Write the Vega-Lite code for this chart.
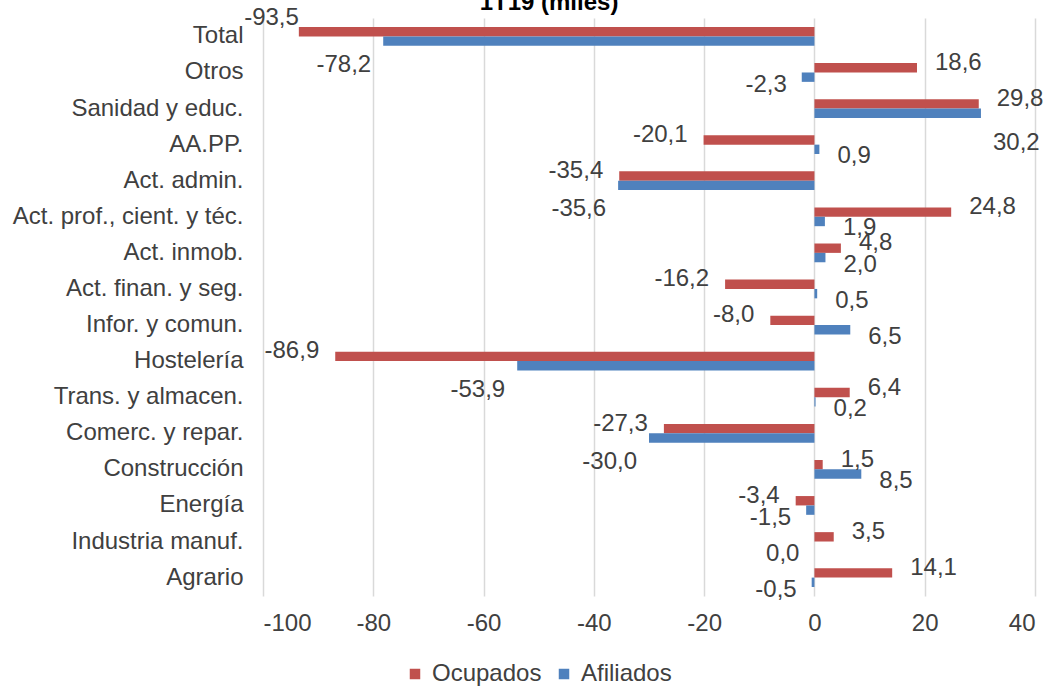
{
  "$schema": "https://vega.github.io/schema/vega-lite/v6.json",
  "width": 772,
  "height": 578,
  "autosize": {"type": "none"},
  "padding": {"left": 263, "top": 18, "right": 20, "bottom": 92},
  "background": "white",
  "title": {"text": "1T19 (miles)", "fontSize": 24, "fontWeight": "bold", "font": "Liberation Sans", "color": "#000000", "offset": -9, "anchor": "middle", "dx": -100},
  "config": {
    "locale": {"number": {"decimal": ",", "thousands": ".", "grouping": [3], "currency": ["", " €"], "minus": "-"}},
    "font": "Liberation Sans",
    "view": {"stroke": null}
  },
  "data": {"values": [
    {"cat": "Total", "serie": "Ocupados", "value": -93.5},
    {"cat": "Total", "serie": "Afiliados", "value": -78.2},
    {"cat": "Otros", "serie": "Ocupados", "value": 18.6},
    {"cat": "Otros", "serie": "Afiliados", "value": -2.3},
    {"cat": "Sanidad y educ.", "serie": "Ocupados", "value": 29.8},
    {"cat": "Sanidad y educ.", "serie": "Afiliados", "value": 30.2},
    {"cat": "AA.PP.", "serie": "Ocupados", "value": -20.1},
    {"cat": "AA.PP.", "serie": "Afiliados", "value": 0.9},
    {"cat": "Act. admin.", "serie": "Ocupados", "value": -35.4},
    {"cat": "Act. admin.", "serie": "Afiliados", "value": -35.6},
    {"cat": "Act. prof., cient. y téc.", "serie": "Ocupados", "value": 24.8},
    {"cat": "Act. prof., cient. y téc.", "serie": "Afiliados", "value": 1.9},
    {"cat": "Act. inmob.", "serie": "Ocupados", "value": 4.8},
    {"cat": "Act. inmob.", "serie": "Afiliados", "value": 2.0},
    {"cat": "Act. finan. y seg.", "serie": "Ocupados", "value": -16.2},
    {"cat": "Act. finan. y seg.", "serie": "Afiliados", "value": 0.5},
    {"cat": "Infor. y comun.", "serie": "Ocupados", "value": -8.0},
    {"cat": "Infor. y comun.", "serie": "Afiliados", "value": 6.5},
    {"cat": "Hostelería", "serie": "Ocupados", "value": -86.9},
    {"cat": "Hostelería", "serie": "Afiliados", "value": -53.9},
    {"cat": "Trans. y almacen.", "serie": "Ocupados", "value": 6.4},
    {"cat": "Trans. y almacen.", "serie": "Afiliados", "value": 0.2},
    {"cat": "Comerc. y repar.", "serie": "Ocupados", "value": -27.3},
    {"cat": "Comerc. y repar.", "serie": "Afiliados", "value": -30.0},
    {"cat": "Construcción", "serie": "Ocupados", "value": 1.5},
    {"cat": "Construcción", "serie": "Afiliados", "value": 8.5},
    {"cat": "Energía", "serie": "Ocupados", "value": -3.4},
    {"cat": "Energía", "serie": "Afiliados", "value": -1.5},
    {"cat": "Industria manuf.", "serie": "Ocupados", "value": 3.5},
    {"cat": "Industria manuf.", "serie": "Afiliados", "value": 0.0},
    {"cat": "Agrario", "serie": "Ocupados", "value": 14.1},
    {"cat": "Agrario", "serie": "Afiliados", "value": -0.5}
  ]},
  "encoding": {
    "y": {"field": "cat", "type": "nominal", "sort": null, "title": null,
      "scale": {"paddingInner": 0.48, "paddingOuter": 0.25},
      "axis": {"domain": false, "ticks": false, "labelFontSize": 24, "labelColor": "#404040", "labelPadding": 20, "labelLimit": 400}},
    "yOffset": {"field": "serie", "type": "nominal", "sort": ["Ocupados", "Afiliados"]},
    "x": {"field": "value", "type": "quantitative", "title": null,
      "scale": {"domain": [-100, 40], "nice": false},
      "axis": {"values": [-100, -80, -60, -40, -20, 0, 20, 40], "format": "d", "grid": true, "gridColor": "#D9D9D9", "gridWidth": 1.5, "domain": false, "ticks": false, "labelFontSize": 24, "labelColor": "#404040", "labelPadding": 15}}
  },
  "layer": [
    {"mark": {"type": "bar"},
     "encoding": {"color": {"field": "serie", "type": "nominal", "title": null,
       "scale": {"domain": ["Ocupados", "Afiliados"], "range": ["#C0504D", "#4F81BD"]},
       "legend": {"orient": "none", "legendX": 140, "legendY": 644, "direction": "horizontal", "symbolType": "square", "symbolSize": 110, "labelFontSize": 24, "labelColor": "#404040", "columnPadding": 10, "labelOffset": 5}}}},
    {"transform": [{"filter": "datum.value > 0 && datum.serie == 'Ocupados'"}],
     "mark": {"type": "text", "align": "left", "dx": 18, "dy": -5, "fontSize": 24, "color": "#404040"},
     "encoding": {"text": {"field": "value", "type": "quantitative", "format": ".1f"}}},
    {"transform": [{"filter": "datum.value <= 0 && datum.value > -90 && datum.serie == 'Ocupados'"}],
     "mark": {"type": "text", "align": "right", "dx": -16, "dy": -5, "fontSize": 24, "color": "#404040"},
     "encoding": {"text": {"field": "value", "type": "quantitative", "format": ".1f"}}},
    {"transform": [{"filter": "datum.value <= -90 && datum.serie == 'Ocupados'"}],
     "mark": {"type": "text", "align": "right", "dx": 0, "dy": -14, "fontSize": 24, "color": "#404040"},
     "encoding": {"text": {"field": "value", "type": "quantitative", "format": ".1f"}}},
    {"transform": [{"filter": "datum.value > 0 && datum.value < 25 && datum.serie == 'Afiliados'"}],
     "mark": {"type": "text", "align": "left", "dx": 18, "dy": 7, "fontSize": 24, "color": "#404040"},
     "encoding": {"text": {"field": "value", "type": "quantitative", "format": ".1f"}}},
    {"transform": [{"filter": "datum.value >= 25 && datum.serie == 'Afiliados'"}],
     "mark": {"type": "text", "align": "left", "dx": 12, "dy": 30, "fontSize": 24, "color": "#404040"},
     "encoding": {"text": {"field": "value", "type": "quantitative", "format": ".1f"}}},
    {"transform": [{"filter": "datum.value <= 0 && datum.value > -25 && datum.serie == 'Afiliados'"}],
     "mark": {"type": "text", "align": "right", "dx": -15, "dy": 8, "fontSize": 24, "color": "#404040"},
     "encoding": {"text": {"field": "value", "type": "quantitative", "format": ".1f"}}},
    {"transform": [{"filter": "datum.value <= -25 && datum.serie == 'Afiliados'"}],
     "mark": {"type": "text", "align": "right", "dx": -12, "dy": 24, "fontSize": 24, "color": "#404040"},
     "encoding": {"text": {"field": "value", "type": "quantitative", "format": ".1f"}}}
  ]
}
